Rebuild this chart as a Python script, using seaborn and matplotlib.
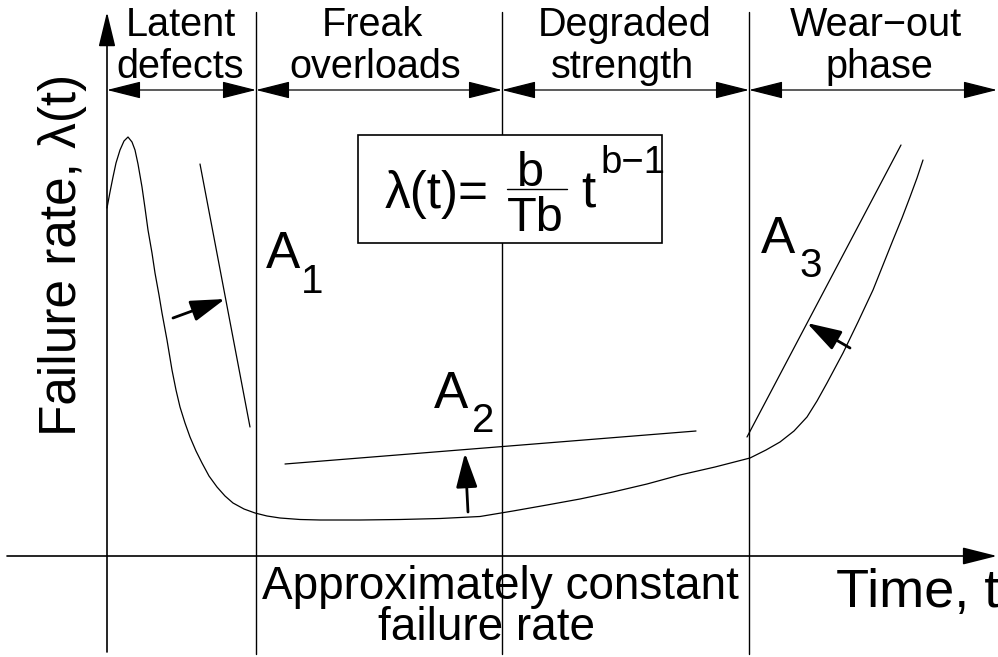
import numpy as np
import pandas as pd
import seaborn as sns
import matplotlib.pyplot as plt
from matplotlib.patches import FancyArrowPatch, Rectangle

# --- DATA (pixel-like units, y grows downward) ---
curve_x = [107, 110, 113, 116, 120, 124, 128, 132, 135, 138, 142, 145, 148, 152,
           155, 159, 162, 167, 172, 176, 180, 185, 190, 196, 202, 209, 217, 225,
           233, 244, 255, 267, 280, 300, 320, 360, 400, 440, 480, 513, 547, 580,
           613, 647, 680, 715, 750, 766, 780, 794, 807, 817, 827, 835, 843, 858,
           873, 883, 893, 902, 910, 917, 923]
curve_y = [208, 192, 177, 163, 150, 141, 137, 142, 150, 164, 187, 208, 230, 253,
           273, 295, 313, 340, 370, 390, 407, 423, 437, 451, 463, 476, 487, 496,
           503, 509, 513, 516, 518, 519.5, 520, 520, 519.5, 518.5, 516.5, 511, 505, 499,
           492, 484, 475, 467, 458, 450, 442, 431, 417, 401, 383, 368, 353, 322,
           290, 265, 240, 218, 197, 178, 160]

# tangent lines (x0, y0, x1, y1)
tangents = [(200, 164, 250, 427), (285, 464, 696, 431), (747, 437, 901, 145)]
# small arrows (from -> to)
shift_arrows = [(173, 318, 225, 299), (468, 512, 465, 453), (850, 348, 807, 323)]

phase_bounds = [107, 256, 502, 749, 997]
phase_top = ["Latent", "Freak", "Degraded", "Wear\u2212out"]
phase_bottom = ["defects", "overloads", "strength", "phase"]
phase_top_x = [181, 372, 625, 876]
phase_bottom_x = [180, 375, 623, 879]

region_labels = [("A", "1", 266, 268, 301, 293),
                 ("A", "2", 434, 408, 472, 432),
                 ("A", "3", 761, 253, 799, 277)]

# --- STYLE ---
sns.set_theme(style="white")
plt.rcParams['font.family'] = ['Liberation Sans', 'DejaVu Sans']
plt.rcParams['text.color'] = 'black'

fig = plt.figure(figsize=(9.98, 6.57), dpi=100)
ax = fig.add_axes([0, 0, 1, 1])


def arrow(x0, y0, x1, y1, style, hl, hw, lw):
    ax.add_patch(FancyArrowPatch((x0, y0), (x1, y1),
                                 arrowstyle=f"{style},head_length={hl},head_width={hw}",
                                 mutation_scale=1, shrinkA=0, shrinkB=0,
                                 color='black', lw=lw, zorder=4))


# bathtub curve
df = pd.DataFrame({"t": curve_x, "rate": curve_y})
sns.lineplot(data=df, x="t", y="rate", sort=False, estimator=None,
             color='black', lw=0.9, ax=ax, zorder=3)

for x0, y0, x1, y1 in tangents:
    sns.lineplot(x=[x0, x1], y=[y0, y1], sort=False, estimator=None,
                 color='black', lw=0.9, ax=ax, zorder=3)

ax.set_xlim(0, 998)
ax.set_ylim(657, 0)
ax.axis('off')

# axes with arrows
arrow(107, 652, 107, 12, '-|>', 21.5, 5.2, 1.2)
arrow(7, 556, 997, 556, '-|>', 21.5, 5.4, 1.2)

# phase separators
for xv in phase_bounds[1:4]:
    ax.plot([xv, xv], [12, 654], color='black', lw=1.0, zorder=1)

# phase arrows + labels
for i in range(4):
    arrow(phase_bounds[i], 90, phase_bounds[i + 1], 90, '<|-|>', 21.5, 5.4, 0.9)
    ax.text(phase_top_x[i], 36, phase_top[i], ha='center', va='baseline', fontsize=28.5)
    ax.text(phase_bottom_x[i], 78, phase_bottom[i], ha='center', va='baseline', fontsize=28.5)

for x0, y0, x1, y1 in shift_arrows:
    arrow(x0, y0, x1, y1, '-|>', 21, 6.5, 2.0)

for big, sub, xa, ya, xs, ys in region_labels:
    ax.text(xa, ya, big, ha='left', va='baseline', fontsize=37)
    ax.text(xs, ys, sub, ha='left', va='baseline', fontsize=29)

# formula box
ax.add_patch(Rectangle((358, 135), 304, 108, facecolor='white',
                       edgecolor='black', lw=1.2, zorder=5))
ax.text(385, 208, "\u03bb(t)=", ha='left', va='baseline', fontsize=37, zorder=6)
ax.text(530, 186, "b", ha='center', va='baseline', fontsize=35, zorder=6)
ax.plot([507, 567], [189, 189], color='black', lw=1.0, zorder=6)
ax.text(507, 231, "Tb", ha='left', va='baseline', fontsize=35, zorder=6)
ax.text(581, 208, "t", ha='left', va='baseline', fontsize=37, zorder=6)
ax.text(600, 173, "b\u22121", ha='left', va='baseline', fontsize=27.5, zorder=6)

# axis titles
ax.text(63, 255, "Failure rate, \u03bb(t)", rotation=90, ha='center', va='center', fontsize=37)
ax.text(836, 607, "Time, t", ha='left', va='baseline', fontsize=39)
ax.text(500, 599, "Approximately constant", ha='center', va='baseline', fontsize=33)
ax.text(487, 640, "failure rate", ha='center', va='baseline', fontsize=33)

fig.savefig("out.png", dpi=100, facecolor='white')
